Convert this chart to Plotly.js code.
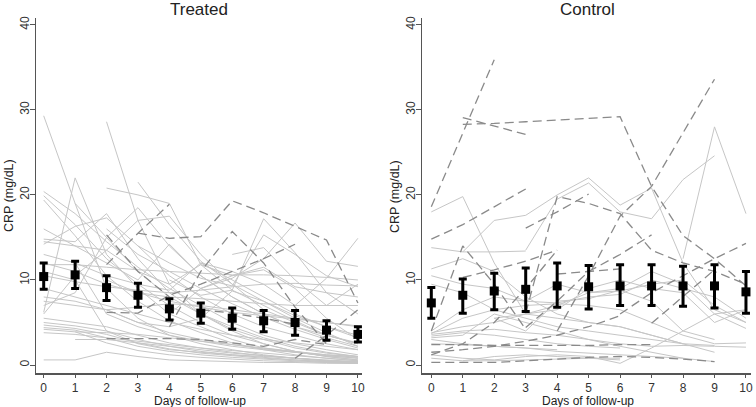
<!DOCTYPE html>
<html>
<head>
<meta charset="utf-8">
<script src="https://cdn.plot.ly/plotly-3.0.1.min.js"></script>
<style>html,body{margin:0;padding:0;background:#fff;}#chart{width:756px;height:407px;}</style>
</head>
<body>
<div id="chart"></div>
<script>
const days = [0,1,2,3,4,5,6,7,8,9,10];
const xTickLabels = ["0","1","2","3","4","5","6","7","8","9","10"];
const yTickVals = [0,10,20,30,40];
const panelTitles = ["Treated","Control"];
const xAxisTitle = "Days of follow-up";
const yAxisTitle = "CRP (mg/dL)";
const n = null;

// Individual patient trajectories, Treated (solid = survivors)
const treatedSolid = [
  [29.3,19,9,5.5,3.5,2.5,1.8,1.2,0.8,0.5,0.3],
  [n,n,28.6,17,9.5,6,4,2.5,1.6,1.0,0.6],
  [6.2,22,13,9,6,4.5,3,2,1.5,1.1,0.8],
  [20.4,17.8,14.5,11.5,9,7,5,3.5,2.5,1.8,1.2],
  [19.9,16.5,12.5,9.5,7,5,3.5,2.5,1.6,1.0,0.6],
  [19.4,15.2,10.5,7.5,5.2,3.8,2.6,1.8,1.2,0.8,0.5],
  [n,n,20.8,20,19,11.8,8.8,7,5.2,3.5,2.5],
  [n,n,n,21.5,16.5,12.2,9.5,7.5,5.8,4.5,3.5],
  [n,19,15,11,8,6,4.5,3.2,2.2,1.5,1.0],
  [14.8,14.5,17.8,12.5,8.5,6,4.2,3,2,1.4,1.0],
  [14.2,16.3,17.3,14,10.5,8,6,4.5,3.5,2.5,1.8],
  [11.8,11.8,11.5,11.2,11,10.8,10.6,10.6,10.5,10.3,10.0],
  [7,8.5,15,18.5,14,10.5,8,6,4.5,3.2,2.2],
  [6,10.5,13.5,17,17.5,13,9.5,6.5,5,3.5,2.5],
  [n,n,n,n,10,8.2,8.8,17.2,13.2,8.5,6],
  [n,n,n,n,n,9,10.2,12.5,16.7,12.2,11.6],
  [n,n,n,14,12,10.2,9.3,15.3,13,10.5,9.2],
  [n,n,n,n,n,12,11,9.5,7,10.2,14.9],
  [12,11,9.5,8.5,8,7.8,7.5,7.2,7.0,7.0,7.0],
  [10.5,9.8,9.2,8.8,8.5,8.8,9.2,9.5,9.6,9.4,9.3],
  [14.5,14,13.5,11,9.5,11.8,10.5,11.5,9.2,8.5,8.0],
  [9,8,7,6,5,4.2,3.5,3,2.6,2.2,1.8],
  [5.5,5,4.5,3.5,2.6,2,1.5,1.1,0.8,0.5,0.3],
  [5,4.6,4,3,2.2,1.6,1.2,0.9,0.6,0.4,0.2],
  [4.7,4.3,3.6,2.6,1.9,1.4,1.1,0.8,0.6,0.4,0.2],
  [4.4,4.1,3.2,2.2,1.6,1.2,0.9,0.7,0.5,0.3,0.2],
  [4.2,3.9,2.6,1.7,1.2,0.9,0.7,0.5,0.4,0.3,0.2],
  [3.8,3.6,3.2,2.8,2.4,2.0,1.7,1.4,1.1,0.8,0.5],
  [0.6,0.6,1.5,1.0,0.6,0.5,0.4,0.3,0.3,0.2,0.2],
  [n,3.9,3.8,3.6,3.2,2.8,2.4,2.0,1.6,1.2,0.9],
  [n,3.0,3.0,2.6,2.2,1.8,1.4,1.1,0.8,0.5,0.4],
  [8,7.5,6.5,6.8,7.2,7,6.5,6,5.5,5,4.5],
  [13,12,6,4.5,3.5,2.8,2.2,1.8,1.5,1.2,1.0],
  [11,10,4,2.5,1.8,1.5,1.2,1.0,0.8,0.6,0.4],
  [n,12,10.5,9.5,8.8,12,10,8,6,4.5,3.2],
  [16,14,12,10,14.2,10.5,8,6,4.5,3.5,2.6],
  [n,n,16,13,11,9,7.2,5.6,4.2,3.0,2.0],
  [n,n,10,8.5,7.5,6.8,6.2,5.8,5.4,5.0,4.6],
  [7.5,7,6.5,5,3.8,3,2.4,1.9,1.5,1.1,0.8],
  [n,n,6.5,5,4.5,5.5,8.7,7.5,5.5,3.8,2.2],
  [n,n,n,n,6,9,10.5,11.2,9,5.5,3.0],
  [n,n,n,n,n,n,13,13.8,10,7,9.5]
];
// Treated (dashed = non-survivors)
const treatedDashed = [
  [n,n,n,15.5,14.9,15.1,19.3,17.9,16.3,14.7,7.3],
  [n,n,n,n,4.5,11,15.7,12,6.8,2.5,n],
  [n,n,11.8,15.5,18.9,n,n,n,n,n,n],
  [n,n,6.2,6.1,8.2,9.5,11,12.5,14.2,n,n],
  [n,n,15.3,11,8,n,n,n,n,n,n],
  [n,n,3.1,3.1,3.1,3.0,2.6,2.2,3.0,2.4,n],
  [n,n,n,n,n,6.5,6.1,5.5,4.8,n,n],
  [n,n,n,n,n,n,n,n,0.8,3.5,6.5]
];
// Control
const controlSolid = [
  [18,19.8,12,6,5.5,5,4.5,3.5,2.5,n,n],
  [n,13.3,17,17.6,20,22,18.8,20.8,12,6.5,5],
  [n,n,n,13.5,19.5,21.4,18,17.2,21.8,24.6,n],
  [n,n,n,n,n,n,n,n,12.5,28,17.8],
  [13.8,13.3,13.3,13.4,n,n,n,n,n,n,n],
  [11.3,12.5,11,8,6,5,4.5,3.5,2.5,2.3,n],
  [10.5,9.5,9,7.5,7.3,8,8.3,10,9,8,5.5],
  [9.5,8.5,6.5,5.5,4.5,4,3.5,3,2.5,1.5,n],
  [3.8,4.5,5,6,7,8.5,9,11,9.5,6,4.3],
  [3.6,4,4.2,3.8,3.5,3,2.5,2.2,2.3,2.2,2.1],
  [3.4,3.8,3.5,3,2.5,2.2,2.0,n,n,n,n],
  [3.2,3.5,6,5,4,3,2.2,1.5,0.8,0.4,n],
  [3.0,2.5,2.2,2.0,1.6,1.4,1.2,1.0,0.8,n,n],
  [2.5,2.4,2.2,2.0,1.8,n,n,n,n,n,n],
  [1.2,0.8,0.6,1.0,1.2,1.0,0.2,2,4,6,6.5],
  [0.8,0.5,1.0,1.2,1.0,0.8,0.6,n,n,n,n],
  [n,0.5,0.5,0.6,0.7,0.8,0.8,n,n,n,n],
  [4,6.5,8,7.5,9.5,8.5,8.7,9.5,10,7,5],
  [n,n,5.5,4,7.5,7.8,8.8,7.5,4,3,n],
  [n,n,5.5,6,6.5,9,10,9,8.5,5,6.5],
  [3.7,5.5,6.5,7,7.2,7,6.5,5,3.5,2.5,2.6]
];
const controlDashed = [
  [18.6,27.3,35.9,n,n,n,n,n,n,n,n],
  [n,29.1,28.1,27.1,n,n,n,n,n,n,n],
  [n,28.3,28.4,28.6,28.8,29.0,29.2,21.0,15.2,12.5,9.3],
  [14.8,16.5,18.6,20.7,n,n,n,n,n,n,n],
  [n,n,n,6.1,19.8,19.0,17.8,13.5,12.0,11.0,9.5],
  [n,n,n,16.1,18.0,20.1,n,n,n,n,n],
  [n,n,n,n,4.0,10.5,17.5,21.0,27.3,33.6,n],
  [n,n,n,n,n,n,6.0,8.5,10.5,12.5,14.3],
  [n,n,n,n,n,n,n,4.9,8.0,11.2,n],
  [n,n,n,4.4,7.5,11,13,15.3,n,n,n],
  [4.0,14.0,9.5,4.2,n,n,n,n,n,n,n],
  [n,10.3,11.2,12.2,13.5,n,n,n,n,n,n],
  [n,n,n,n,10.7,11.0,11.3,n,n,n,n],
  [2.4,2.4,2.3,2.3,2.3,2.3,2.4,2.4,n,n,n],
  [0.3,0.3,0.3,0.5,0.7,0.9,1.0,0.9,0.7,0.4,n],
  [1.5,1.8,2.2,2.8,3.5,4.5,5.8,n,n,n,n],
  [1.2,2.5,5,9,13.5,n,n,n,n,n,n]
];
// Means and 95% CI
const treatedMean  = [10.4,10.6,9.1,8.2,6.6,6.1,5.5,5.2,5.0,4.1,3.6];
const treatedUpper = [12.0,12.2,10.5,9.6,7.8,7.3,6.7,6.4,6.4,5.2,4.5];
const treatedLower = [8.9,9.0,7.6,6.8,5.3,4.9,4.2,3.9,3.5,2.9,2.7];
const controlMean  = [7.3,8.2,8.7,8.9,9.3,9.2,9.3,9.3,9.3,9.3,8.6];
const controlUpper = [9.1,10.1,10.8,11.4,12.0,11.7,11.8,11.8,11.6,11.8,11.0];
const controlLower = [5.5,6.1,6.5,6.3,6.8,6.6,7.0,7.0,6.9,6.7,6.1];

const traces = [];
function addLines(arr, xa, ya, dashed){
  arr.forEach(v => traces.push({
    x: days, y: v, xaxis: xa, yaxis: ya, type:'scatter', mode:'lines',
    connectgaps:false, hoverinfo:'skip', showlegend:false,
    line: dashed ? {color:'#8a8a8a', width:1.3, dash:'9px,5px'} : {color:'#c6c6c6', width:1}
  }));
}
addLines(treatedSolid,'x','y',false);
addLines(controlSolid,'x2','y2',false);
addLines(treatedDashed,'x','y',true);
addLines(controlDashed,'x2','y2',true);
function addMean(m, up, lo, xa, ya){
  traces.push({
    x: days, y: m, xaxis: xa, yaxis: ya, type:'scatter', mode:'markers', showlegend:false,
    marker:{symbol:'square', size:9, color:'#000'},
    error_y:{type:'data', symmetric:false,
      array: up.map((u,i)=>u-m[i]), arrayminus: m.map((v,i)=>v-lo[i]),
      color:'#000', thickness:3, width:4}
  });
}
addMean(treatedMean,treatedUpper,treatedLower,'x','y');
addMean(controlMean,controlUpper,controlLower,'x2','y2');

const font = {family:'"Liberation Sans", Arial, sans-serif', color:'#222'};
const yBase = {
  range:[-0.94,40.8], tickvals:yTickVals, ticktext:yTickVals.map(String), tickangle:-90,
  showline:true, linecolor:'#555', linewidth:1.5, ticks:'outside', ticklen:5, tickcolor:'#555',
  showgrid:false, zeroline:false, tickfont:{size:12, color:'#333'}, ticklabelstandoff:-4,
  domain:[0.0835,0.9558], automargin:false
};
const xBase = {
  tickvals:days, ticktext:xTickLabels, tickangle:0,
  showline:true, linecolor:'#555', linewidth:1.5, ticks:'outside', ticklen:3, tickcolor:'#555',
  showgrid:false, zeroline:false, tickfont:{size:12, color:'#333'}, automargin:false
};
function ann(text, xpx, ypx, size, angle){
  return {text:text, x:xpx/756, y:1-ypx/407, xref:'paper', yref:'paper', showarrow:false,
    xanchor:'center', yanchor:'middle', textangle:angle||0, font:{size:size, color:'#222'}};
}
const layout = {
  width:756, height:407, margin:{l:0,r:0,t:0,b:0},
  paper_bgcolor:'#fff', plot_bgcolor:'#fff', font:font, showlegend:false,
  xaxis:Object.assign({}, xBase, {domain:[36/756, 362/756], range:[-0.245,10.13], anchor:'y'}),
  yaxis:Object.assign({}, yBase, {anchor:'x'}),
  xaxis2:Object.assign({}, xBase, {domain:[422/756, 751/756], range:[-0.296,10.16], anchor:'y2'}),
  yaxis2:Object.assign({}, yBase, {anchor:'x2'}),
  annotations:[
    ann(panelTitles[0], 199, 9, 17),
    ann(panelTitles[1], 587, 9, 17),
    ann(xAxisTitle, 200, 400.5, 12),
    ann(xAxisTitle, 588, 400.5, 12),
    ann(yAxisTitle, 9, 196, 12.5, -90),
    ann(yAxisTitle, 395, 196, 12.5, -90)
  ]
};
Plotly.newPlot('chart', traces, layout, {staticPlot:true, displayModeBar:false});
</script>
</body>
</html>
